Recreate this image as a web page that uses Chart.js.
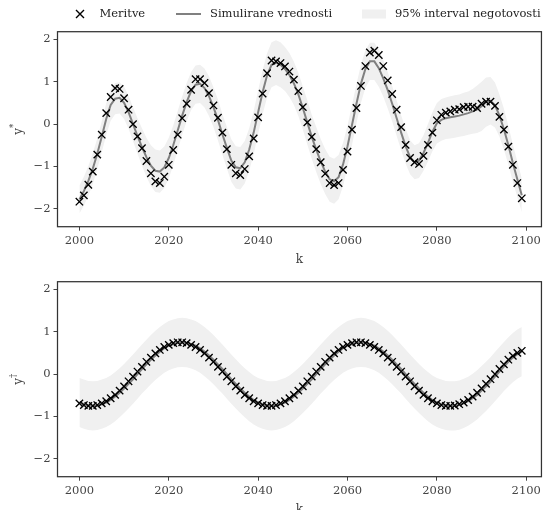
<!DOCTYPE html>
<html>
<head>
<meta charset="utf-8">
<script src="https://cdn.jsdelivr.net/npm/chart.js@4.4.1/dist/chart.umd.min.js"></script>
<style>
body { margin: 0; background: #fff; }
#okno { position: relative; width: 548px; height: 510px; overflow: hidden; }
canvas { position: absolute; left: 0; }
</style>
</head>
<body>
<div id="okno">
  <canvas id="zgoraj" width="548" height="270" style="top:0"></canvas>
  <canvas id="spodaj" width="548" height="260" style="top:250px"></canvas>
</div>
<script>
/* PODATKI */

const leta = [
  2000,2001,2002,2003,2004,2005,2006,2007,2008,2009,
  2010,2011,2012,2013,2014,2015,2016,2017,2018,2019,
  2020,2021,2022,2023,2024,2025,2026,2027,2028,2029,
  2030,2031,2032,2033,2034,2035,2036,2037,2038,2039,
  2040,2041,2042,2043,2044,2045,2046,2047,2048,2049,
  2050,2051,2052,2053,2054,2055,2056,2057,2058,2059,
  2060,2061,2062,2063,2064,2065,2066,2067,2068,2069,
  2070,2071,2072,2073,2074,2075,2076,2077,2078,2079,
  2080,2081,2082,2083,2084,2085,2086,2087,2088,2089,
  2090,2091,2092,2093,2094,2095,2096,2097,2098,2099
]

// zgornji graf (y*)
const meritveZ = [
  -1.83,-1.68,-1.43,-1.12,-0.72,-0.25,0.26,0.64,0.85,0.83,
  0.61,0.34,0.00,-0.29,-0.57,-0.87,-1.16,-1.35,-1.39,-1.24,
  -0.96,-0.61,-0.25,0.14,0.48,0.81,1.06,1.06,0.97,0.73,
  0.44,0.15,-0.20,-0.59,-0.96,-1.16,-1.20,-1.06,-0.76,-0.34,
  0.16,0.72,1.20,1.50,1.48,1.44,1.36,1.24,1.05,0.78,
  0.40,0.04,-0.30,-0.59,-0.90,-1.17,-1.39,-1.44,-1.39,-1.08,
  -0.65,-0.13,0.38,0.90,1.37,1.69,1.73,1.63,1.37,1.03,
  0.71,0.34,-0.07,-0.49,-0.80,-0.90,-0.94,-0.75,-0.49,-0.20,
  0.09,0.22,0.27,0.30,0.34,0.35,0.40,0.41,0.41,0.38,
  0.48,0.53,0.53,0.43,0.17,-0.13,-0.53,-0.96,-1.39,-1.75
]
const simZ = [
  -1.78,-1.58,-1.34,-1.05,-0.70,-0.30,0.12,0.45,0.60,0.62,
  0.50,0.28,0.00,-0.28,-0.54,-0.78,-0.98,-1.10,-1.12,-1.02,
  -0.80,-0.50,-0.15,0.20,0.52,0.78,0.93,0.95,0.85,0.66,
  0.40,0.10,-0.24,-0.56,-0.86,-1.02,-1.04,-0.90,-0.60,-0.20,
  0.28,0.75,1.15,1.40,1.45,1.40,1.30,1.16,0.96,0.70,
  0.38,0.04,-0.30,-0.60,-0.88,-1.12,-1.30,-1.35,-1.25,-0.95,
  -0.52,-0.02,0.48,0.95,1.30,1.48,1.48,1.32,1.08,0.80,
  0.48,0.14,-0.20,-0.52,-0.78,-0.90,-0.86,-0.68,-0.44,-0.18,
  0.02,0.10,0.14,0.16,0.18,0.20,0.23,0.26,0.30,0.35,
  0.42,0.52,0.55,0.45,0.20,-0.12,-0.50,-0.92,-1.30,-1.68
]
const zgMejaZ = [
  -1.45,-1.24,-0.99,-0.69,-0.34,0.07,0.49,0.82,0.97,0.99,
  0.88,0.67,0.40,0.14,-0.10,-0.32,-0.50,-0.60,-0.62,-0.53,
  -0.32,-0.03,0.31,0.65,0.97,1.23,1.38,1.40,1.31,1.13,
  0.87,0.58,0.24,-0.07,-0.36,-0.52,-0.54,-0.40,-0.10,0.31,
  0.79,1.27,1.67,1.93,1.98,1.93,1.82,1.68,1.47,1.21,
  0.89,0.56,0.22,-0.07,-0.35,-0.59,-0.77,-0.82,-0.73,-0.44,
  -0.03,0.45,0.94,1.40,1.74,1.92,1.92,1.76,1.51,1.23,
  0.90,0.56,0.21,-0.11,-0.38,-0.50,-0.45,-0.26,0.00,0.28,
  0.50,0.59,0.63,0.66,0.68,0.70,0.74,0.77,0.83,0.91,
  1.00,1.10,1.11,0.98,0.70,0.36,-0.04,-0.48,-0.88,-1.28
]
const spMejaZ = [
  -2.11,-1.92,-1.69,-1.41,-1.06,-0.67,-0.25,0.08,0.23,0.25,
  0.12,-0.11,-0.40,-0.70,-0.98,-1.24,-1.46,-1.60,-1.62,-1.51,
  -1.28,-0.97,-0.61,-0.25,0.07,0.33,0.48,0.50,0.39,0.19,
  -0.07,-0.38,-0.72,-1.05,-1.36,-1.52,-1.54,-1.40,-1.10,-0.71,
  -0.23,0.23,0.63,0.87,0.92,0.87,0.78,0.64,0.45,0.19,
  -0.13,-0.48,-0.82,-1.13,-1.41,-1.65,-1.83,-1.88,-1.77,-1.46,
  -1.01,-0.49,0.02,0.50,0.86,1.04,1.04,0.88,0.65,0.37,
  0.06,-0.28,-0.61,-0.93,-1.18,-1.30,-1.27,-1.10,-0.88,-0.64,
  -0.46,-0.39,-0.35,-0.34,-0.32,-0.30,-0.28,-0.25,-0.23,-0.21,
  -0.16,-0.06,-0.01,-0.08,-0.30,-0.60,-0.96,-1.36,-1.72,-2.08
]

// spodnji graf (y†)
const meritveS = [
  -0.69,-0.73,-0.75,-0.75,-0.73,-0.69,-0.64,-0.57,-0.49,-0.39,
  -0.29,-0.17,-0.06,0.06,0.17,0.29,0.39,0.49,0.57,0.64,
  0.69,0.73,0.75,0.75,0.73,0.69,0.64,0.57,0.49,0.39,
  0.29,0.17,0.06,-0.06,-0.17,-0.29,-0.39,-0.49,-0.57,-0.64,
  -0.69,-0.73,-0.75,-0.75,-0.73,-0.69,-0.64,-0.57,-0.49,-0.39,
  -0.29,-0.17,-0.06,0.06,0.17,0.29,0.39,0.49,0.57,0.64,
  0.69,0.73,0.75,0.75,0.73,0.69,0.64,0.57,0.49,0.39,
  0.29,0.17,0.06,-0.06,-0.17,-0.29,-0.39,-0.49,-0.57,-0.64,
  -0.69,-0.73,-0.75,-0.75,-0.74,-0.71,-0.67,-0.61,-0.53,-0.44,
  -0.34,-0.23,-0.12,0.00,0.12,0.23,0.34,0.43,0.50,0.55
]
const simS = [
  -0.67,-0.71,-0.74,-0.75,-0.74,-0.71,-0.67,-0.61,-0.53,-0.44,
  -0.34,-0.23,-0.12,0.00,0.12,0.23,0.34,0.44,0.53,0.61,
  0.67,0.71,0.74,0.75,0.74,0.71,0.67,0.61,0.53,0.44,
  0.34,0.23,0.12,0.00,-0.12,-0.23,-0.34,-0.44,-0.53,-0.61,
  -0.67,-0.71,-0.74,-0.75,-0.74,-0.71,-0.67,-0.61,-0.53,-0.44,
  -0.34,-0.23,-0.12,0.00,0.12,0.23,0.34,0.44,0.53,0.61,
  0.67,0.71,0.74,0.75,0.74,0.71,0.67,0.61,0.53,0.44,
  0.34,0.23,0.12,0.00,-0.12,-0.23,-0.34,-0.44,-0.53,-0.61,
  -0.67,-0.71,-0.74,-0.75,-0.75,-0.73,-0.69,-0.64,-0.57,-0.49,
  -0.39,-0.29,-0.18,-0.06,0.06,0.18,0.29,0.39,0.47,0.53
]
const zgMejaS = [
  -0.09,-0.13,-0.16,-0.17,-0.16,-0.13,-0.09,-0.03,0.05,0.14,
  0.24,0.35,0.46,0.58,0.70,0.81,0.92,1.02,1.11,1.19,
  1.25,1.29,1.32,1.33,1.32,1.29,1.25,1.19,1.11,1.02,
  0.92,0.81,0.70,0.58,0.46,0.35,0.24,0.14,0.05,-0.03,
  -0.09,-0.13,-0.16,-0.17,-0.16,-0.13,-0.09,-0.03,0.05,0.14,
  0.24,0.35,0.46,0.58,0.70,0.81,0.92,1.02,1.11,1.19,
  1.25,1.29,1.32,1.33,1.32,1.29,1.25,1.19,1.11,1.02,
  0.92,0.81,0.70,0.58,0.46,0.35,0.24,0.14,0.05,-0.03,
  -0.09,-0.13,-0.16,-0.17,-0.17,-0.15,-0.11,-0.06,0.01,0.09,
  0.19,0.29,0.40,0.52,0.64,0.76,0.87,0.97,1.05,1.11
]
const spMejaS = [
  -1.25,-1.29,-1.32,-1.33,-1.32,-1.29,-1.25,-1.19,-1.11,-1.02,
  -0.92,-0.81,-0.70,-0.58,-0.46,-0.35,-0.24,-0.14,-0.05,0.03,
  0.09,0.13,0.16,0.17,0.16,0.13,0.09,0.03,-0.05,-0.14,
  -0.24,-0.35,-0.46,-0.58,-0.70,-0.81,-0.92,-1.02,-1.11,-1.19,
  -1.25,-1.29,-1.32,-1.33,-1.32,-1.29,-1.25,-1.19,-1.11,-1.02,
  -0.92,-0.81,-0.70,-0.58,-0.46,-0.35,-0.24,-0.14,-0.05,0.03,
  0.09,0.13,0.16,0.17,0.16,0.13,0.09,0.03,-0.05,-0.14,
  -0.24,-0.35,-0.46,-0.58,-0.70,-0.81,-0.92,-1.02,-1.11,-1.19,
  -1.25,-1.29,-1.32,-1.33,-1.33,-1.31,-1.27,-1.22,-1.15,-1.07,
  -0.97,-0.87,-0.76,-0.64,-0.52,-0.40,-0.29,-0.19,-0.11,-0.05
]

const xTicks = [2000, 2020, 2040, 2060, 2080, 2100]
const yTicks = [-2, -1, 0, 1, 2]

const legenda = ["Meritve", "Simulirane vrednosti", "95% interval negotovosti"]


/* NASTAVITVE */

const pisava = '"DejaVu Serif", serif'
const sivaLinija = "#808080"
const pas = "#f0f0f0"
const besedilo = "#444"

const tocke = ys => leta.map((x, i) => ({ x: x, y: ys[i] }))


/* OKVIR OKOLI GRAFA */

const okvir = {
    id: "okvir",
    afterDatasetsDraw(chart) {
        const { ctx, chartArea: a } = chart
        ctx.save()
        ctx.strokeStyle = "#333"
        ctx.lineWidth = 1.25
        ctx.strokeRect(a.left, a.top, a.right - a.left, a.bottom - a.top)
        ctx.restore()
    }
}


/* OZNAKE OSI (k, y* in y†) */

const oznake = {
    id: "oznake",
    afterDraw(chart, args, o) {
        const { ctx, chartArea: a } = chart
        ctx.save()
        ctx.fillStyle = besedilo
        ctx.textBaseline = "middle"
        ctx.textAlign = "center"
        ctx.font = "12px " + pisava
        ctx.fillText("k", (a.left + a.right) / 2, a.bottom + 33)

        ctx.translate(19, (a.top + a.bottom) / 2)
        ctx.rotate(-Math.PI / 2)
        ctx.textAlign = "left"
        const w1 = ctx.measureText("y").width
        ctx.font = "8.5px " + pisava
        const w2 = ctx.measureText(o.sup).width
        const x0 = -(w1 + w2) / 2
        ctx.font = "12px " + pisava
        ctx.fillText("y", x0, 0)
        ctx.font = "8.5px " + pisava
        ctx.fillText(o.sup, x0 + w1, -5)
        ctx.restore()
    }
}


/* LEGENDA */

const legendaPlugin = {
    id: "legendaZ",
    afterDraw(chart, args, o) {
        if (!o.prikazi) return
        const ctx = chart.ctx
        const y = 14
        ctx.save()
        ctx.strokeStyle = "#000"
        ctx.lineWidth = 1.4
        ctx.beginPath()
        ctx.moveTo(76, y - 4); ctx.lineTo(84, y + 4)
        ctx.moveTo(76, y + 4); ctx.lineTo(84, y - 4)
        ctx.stroke()

        ctx.strokeStyle = sivaLinija
        ctx.lineWidth = 2
        ctx.beginPath()
        ctx.moveTo(176, y); ctx.lineTo(201, y)
        ctx.stroke()

        ctx.fillStyle = pas
        ctx.fillRect(362, y - 4.5, 24, 9)

        ctx.fillStyle = "#222"
        ctx.font = "11.5px " + pisava
        ctx.textBaseline = "middle"
        ctx.textAlign = "left"
        ctx.fillText(legenda[0], 99.5, y)
        ctx.fillText(legenda[1], 210, y)
        ctx.fillText(legenda[2], 395, y)
        ctx.restore()
    }
}


/* GRAF */

function graf(id, meritve, sim, zg, sp, sup, visinaX, zLegendo) {

    new Chart(document.getElementById(id), {

        type: "line",

        data: {
            datasets: [
                {
                    label: legenda[0],
                    data: tocke(meritve),
                    showLine: false,
                    pointStyle: "crossRot",
                    pointRadius: 5.2,
                    pointBorderWidth: 1.35,
                    pointBorderColor: "#000",
                    pointBackgroundColor: "#000",
                    order: 0
                },
                {
                    label: legenda[1],
                    data: tocke(sim),
                    borderColor: sivaLinija,
                    borderWidth: 2,
                    pointRadius: 0,
                    fill: false,
                    order: 1
                },
                {
                    label: legenda[2],
                    data: tocke(zg),
                    borderColor: "rgba(0,0,0,0)",
                    borderWidth: 0,
                    pointRadius: 0,
                    backgroundColor: pas,
                    fill: "+1",
                    order: 2
                },
                {
                    label: "spodnja meja",
                    data: tocke(sp),
                    borderColor: "rgba(0,0,0,0)",
                    borderWidth: 0,
                    pointRadius: 0,
                    fill: false,
                    order: 3
                }
            ]
        },

        options: {
            responsive: false,
            maintainAspectRatio: false,
            animation: false,
            events: [],
            layout: { padding: { top: 31.7, right: 3, left: 0, bottom: 0 } },
            plugins: {
                legend: { display: false },
                tooltip: { enabled: false },
                oznake: { sup: sup },
                legendaZ: { prikazi: zLegendo }
            },
            scales: {
                x: {
                    type: "linear",
                    min: 1995.1,
                    max: 2103.4,
                    afterBuildTicks: s => { s.ticks = xTicks.map(v => ({ value: v })) },
                    afterFit: s => { s.height = visinaX },
                    grid: { drawOnChartArea: false, drawTicks: true, tickLength: 4, tickColor: "#444" },
                    border: { display: false },
                    ticks: {
                        font: { family: pisava, size: 11.5 },
                        color: besedilo,
                        padding: 3,
                        maxRotation: 0,
                        autoSkip: false,
                        callback: v => String(v)
                    }
                },
                y: {
                    min: -2.42,
                    max: 2.18,
                    afterBuildTicks: s => { s.ticks = yTicks.map(v => ({ value: v })) },
                    afterFit: s => { s.width = 57.5 },
                    grid: { drawOnChartArea: false, drawTicks: true, tickLength: 4, tickColor: "#444" },
                    border: { display: false },
                    ticks: {
                        font: { family: pisava, size: 11.5 },
                        color: besedilo,
                        padding: 3,
                        callback: v => v < 0 ? "\u2212" + (-v) : String(v)
                    }
                }
            }
        },

        plugins: [okvir, oznake, legendaPlugin]

    })

}

graf("zgoraj", meritveZ, simZ, zgMejaZ, spMejaZ, "*", 43.3, true)
graf("spodaj", meritveS, simS, zgMejaS, spMejaS, "\u2020", 33.3, false)
</script>
</body>
</html>
